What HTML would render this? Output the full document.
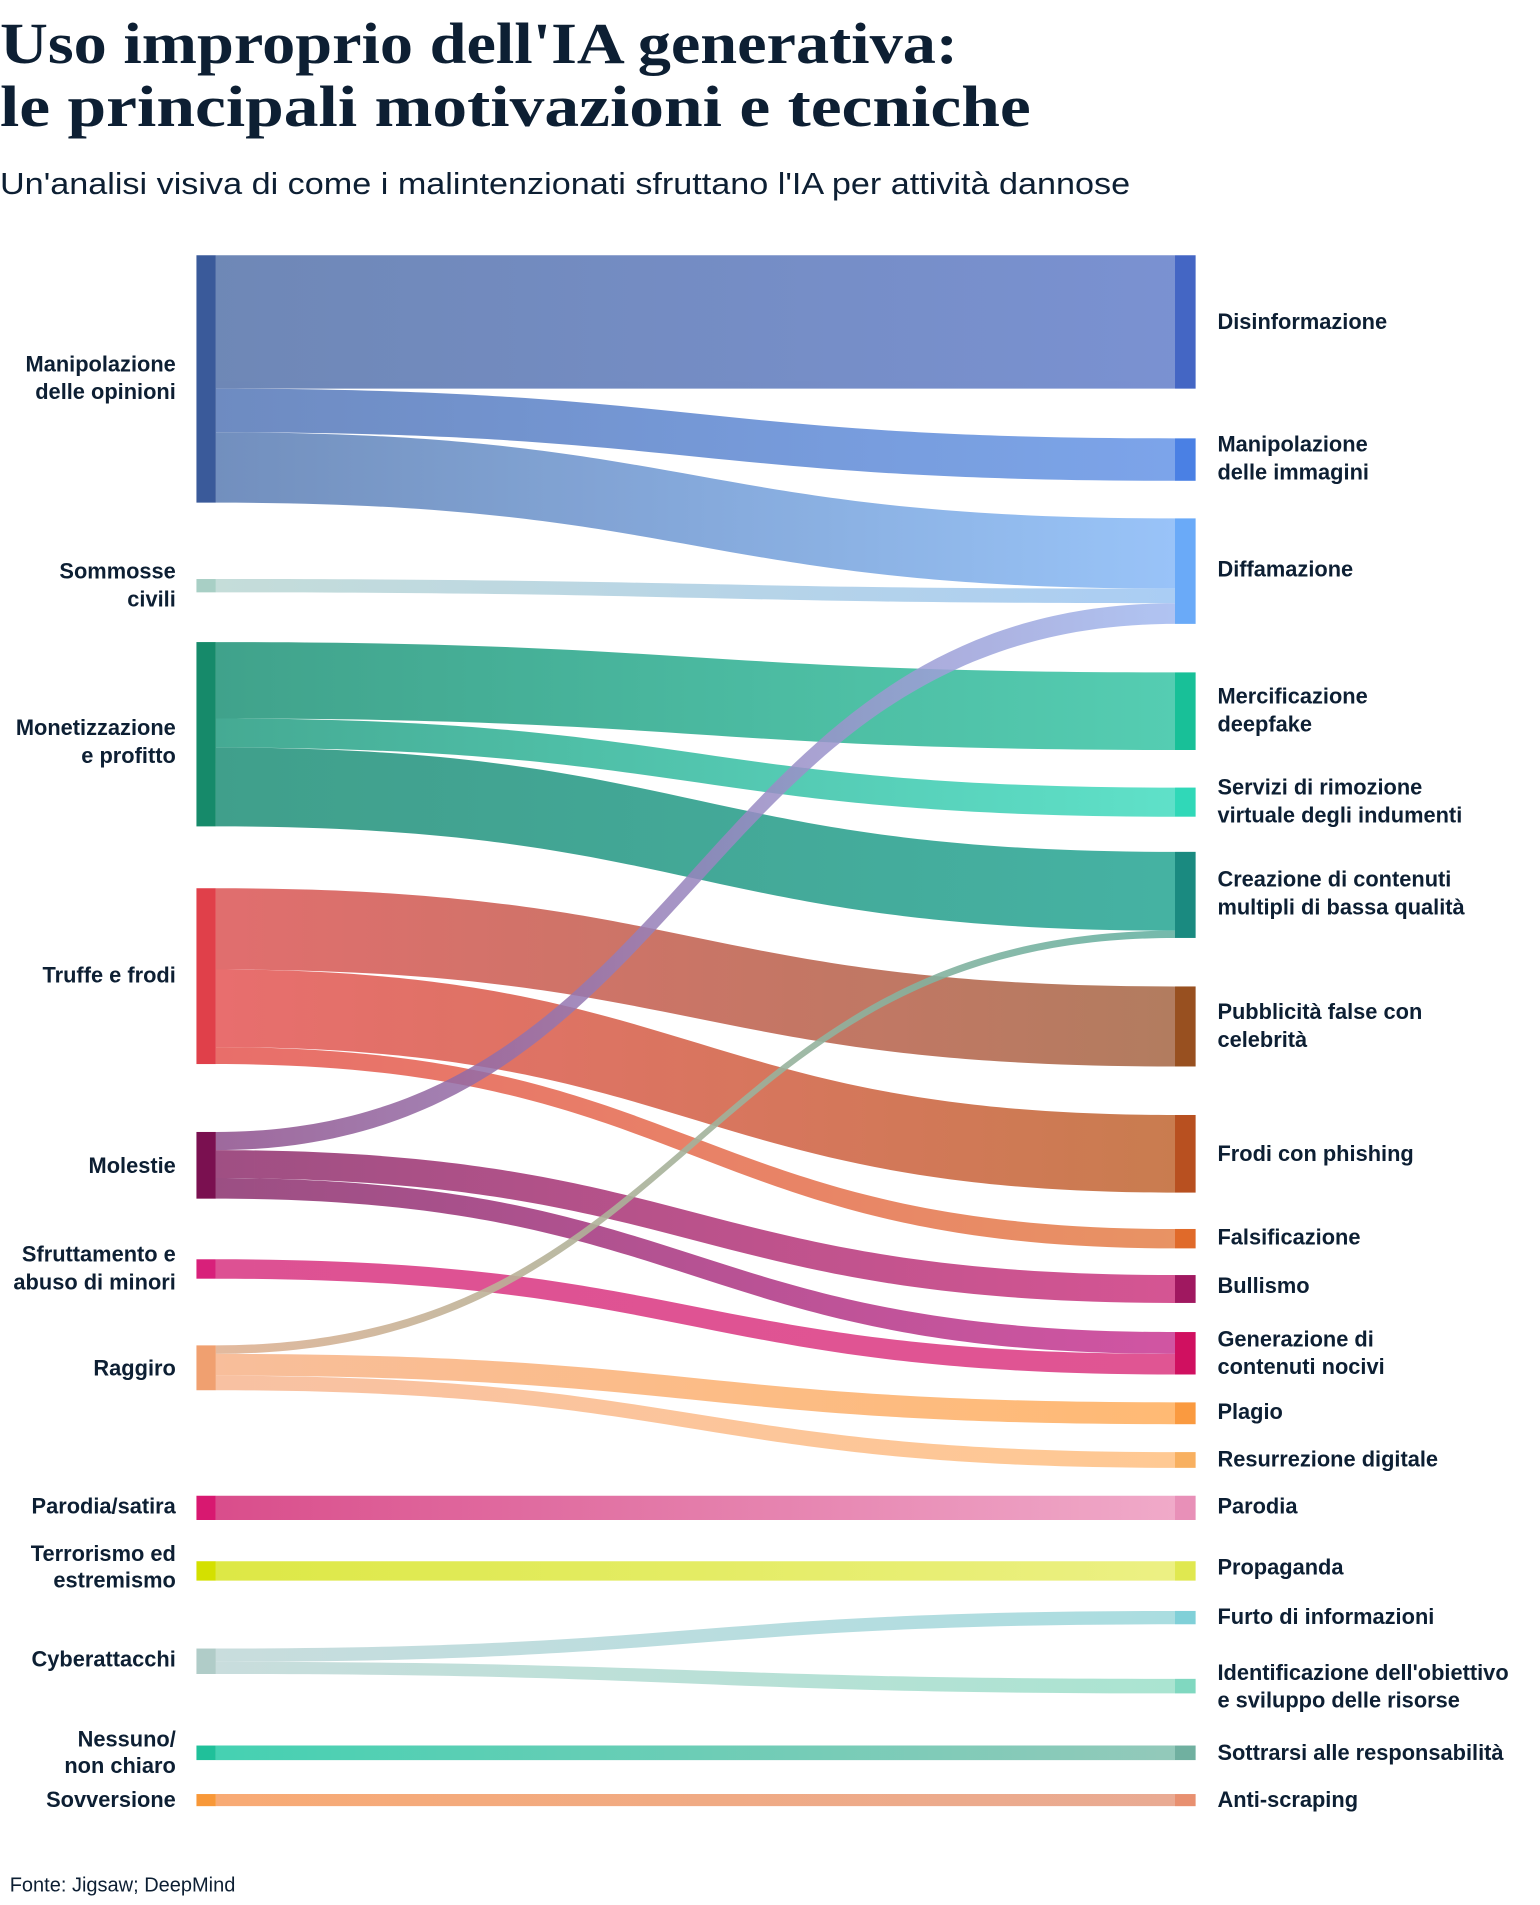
<!DOCTYPE html>
<html><head><meta charset="utf-8"><style>
html,body{margin:0;padding:0;background:#fff;}
svg{display:block;}
.l{font-family:"Liberation Sans",sans-serif;font-weight:bold;font-size:18px;fill:#0d1f33;dominant-baseline:middle;}
.r{text-anchor:end;}
</style></head><body>
<svg width="1540" height="1905" viewBox="0 0 1270 1571" xmlns="http://www.w3.org/2000/svg">
<defs>
<linearGradient id="g1" gradientUnits="userSpaceOnUse" x1="178" x2="969"><stop offset="0" stop-color="#6a84b4"/><stop offset="1" stop-color="#768ed0"/></linearGradient>
<linearGradient id="g2" gradientUnits="userSpaceOnUse" x1="178" x2="969"><stop offset="0" stop-color="#6a88c0"/><stop offset="1" stop-color="#78a2ea"/></linearGradient>
<linearGradient id="g3" gradientUnits="userSpaceOnUse" x1="178" x2="969"><stop offset="0" stop-color="#6e8cbc"/><stop offset="1" stop-color="#96c2f8"/></linearGradient>
<linearGradient id="g4" gradientUnits="userSpaceOnUse" x1="178" x2="969"><stop offset="0" stop-color="#c4dcd8"/><stop offset="1" stop-color="#a8ccf4"/></linearGradient>
<linearGradient id="g5" gradientUnits="userSpaceOnUse" x1="178" x2="969"><stop offset="0" stop-color="#8a4a88"/><stop offset="1" stop-color="#a0b8f0"/></linearGradient>
<linearGradient id="g6" gradientUnits="userSpaceOnUse" x1="178" x2="969"><stop offset="0" stop-color="#9c4a80"/><stop offset="1" stop-color="#d45090"/></linearGradient>
<linearGradient id="g7" gradientUnits="userSpaceOnUse" x1="178" x2="969"><stop offset="0" stop-color="#984a80"/><stop offset="1" stop-color="#d050a0"/></linearGradient>
<linearGradient id="g8" gradientUnits="userSpaceOnUse" x1="178" x2="969"><stop offset="0" stop-color="#3aa088"/><stop offset="1" stop-color="#50ccb0"/></linearGradient>
<linearGradient id="g9" gradientUnits="userSpaceOnUse" x1="178" x2="969"><stop offset="0" stop-color="#40a890"/><stop offset="1" stop-color="#5ae0c8"/></linearGradient>
<linearGradient id="g10" gradientUnits="userSpaceOnUse" x1="178" x2="969"><stop offset="0" stop-color="#3a9c88"/><stop offset="1" stop-color="#40b0a0"/></linearGradient>
<linearGradient id="g11" gradientUnits="userSpaceOnUse" x1="178" x2="969"><stop offset="0" stop-color="#e0b090"/><stop offset="1" stop-color="#60b0a0"/></linearGradient>
<linearGradient id="g12" gradientUnits="userSpaceOnUse" x1="178" x2="969"><stop offset="0" stop-color="#f8bc98"/><stop offset="1" stop-color="#ffb870"/></linearGradient>
<linearGradient id="g13" gradientUnits="userSpaceOnUse" x1="178" x2="969"><stop offset="0" stop-color="#f8c0a0"/><stop offset="1" stop-color="#ffc890"/></linearGradient>
<linearGradient id="g14" gradientUnits="userSpaceOnUse" x1="178" x2="969"><stop offset="0" stop-color="#e06a6a"/><stop offset="1" stop-color="#b0785a"/></linearGradient>
<linearGradient id="g15" gradientUnits="userSpaceOnUse" x1="178" x2="969"><stop offset="0" stop-color="#e86a6a"/><stop offset="1" stop-color="#c8784a"/></linearGradient>
<linearGradient id="g16" gradientUnits="userSpaceOnUse" x1="178" x2="969"><stop offset="0" stop-color="#e86a66"/><stop offset="1" stop-color="#e89060"/></linearGradient>
<linearGradient id="g17" gradientUnits="userSpaceOnUse" x1="178" x2="969"><stop offset="0" stop-color="#dc4c90"/><stop offset="1" stop-color="#e05090"/></linearGradient>
<linearGradient id="g18" gradientUnits="userSpaceOnUse" x1="178" x2="969"><stop offset="0" stop-color="#d84888"/><stop offset="1" stop-color="#f0a8c8"/></linearGradient>
<linearGradient id="g19" gradientUnits="userSpaceOnUse" x1="178" x2="969"><stop offset="0" stop-color="#dce840"/><stop offset="1" stop-color="#ecf080"/></linearGradient>
<linearGradient id="g20" gradientUnits="userSpaceOnUse" x1="178" x2="969"><stop offset="0" stop-color="#c8dcdc"/><stop offset="1" stop-color="#a8dce0"/></linearGradient>
<linearGradient id="g21" gradientUnits="userSpaceOnUse" x1="178" x2="969"><stop offset="0" stop-color="#c8dcdc"/><stop offset="1" stop-color="#a8e4d0"/></linearGradient>
<linearGradient id="g22" gradientUnits="userSpaceOnUse" x1="178" x2="969"><stop offset="0" stop-color="#40d0b0"/><stop offset="1" stop-color="#90c8b8"/></linearGradient>
<linearGradient id="g23" gradientUnits="userSpaceOnUse" x1="178" x2="969"><stop offset="0" stop-color="#f8a870"/><stop offset="1" stop-color="#e8a890"/></linearGradient>
</defs>

<text x="0" y="52" font-family="Liberation Serif,serif" font-weight="bold" font-size="48" fill="#0d1f33" textLength="790" lengthAdjust="spacingAndGlyphs">Uso improprio dell'IA generativa:</text>
<text x="0" y="104" font-family="Liberation Serif,serif" font-weight="bold" font-size="48" fill="#0d1f33" textLength="850" lengthAdjust="spacingAndGlyphs">le principali motivazioni e tecniche</text>
<text x="0" y="160" font-family="Liberation Sans,sans-serif" font-size="25" fill="#0d1f33" textLength="932" lengthAdjust="spacingAndGlyphs">Un'analisi visiva di come i malintenzionati sfruttano l'IA per attività dannose</text>

<g transform="translate(0,1.5)">
<g opacity="0.97">
<path fill="url(#g1)" d="M178 209C573 209 573 209 969 209L969 319C573 319 573 319 178 319Z"/>
<path fill="url(#g2)" d="M178 319C573 319 573 360 969 360L969 395C573 395 573 355 178 355Z"/>
<path fill="url(#g3)" d="M178 355C573 355 573 426 969 426L969 484C573 484 573 413 178 413Z"/>
<path fill="url(#g4)" d="M178 476C573 476 573 484 969 484L969 496C573 496 573 487 178 487Z"/>
<path fill="url(#g8)" d="M178 528C573 528 573 553 969 553L969 617C573 617 573 591 178 591Z"/>
<path fill="url(#g9)" d="M178 591C573 591 573 648 969 648L969 672C573 672 573 615 178 615Z"/>
<path fill="url(#g10)" d="M178 615C573 615 573 701 969 701L969 766C573 766 573 680 178 680Z"/>
<path fill="url(#g14)" d="M178 731C573 731 573 812 969 812L969 878C573 878 573 798 178 798Z"/>
<path fill="url(#g15)" d="M178 798C573 798 573 918 969 918L969 982C573 982 573 862 178 862Z"/>
<path fill="url(#g16)" d="M178 862C573 862 573 1012 969 1012L969 1028C573 1028 573 876 178 876Z"/>
<path fill="url(#g5)" opacity="0.85" d="M178 932C573 932 573 496 969 496L969 513C573 513 573 947 178 947Z"/>
<path fill="url(#g6)" d="M178 947C573 947 573 1050 969 1050L969 1073C573 1073 573 970 178 970Z"/>
<path fill="url(#g7)" d="M178 970C573 970 573 1097 969 1097L969 1115C573 1115 573 987 178 987Z"/>
<path fill="url(#g17)" d="M178 1037C573 1037 573 1115 969 1115L969 1132C573 1132 573 1053 178 1053Z"/>
<path fill="url(#g11)" opacity="0.9" d="M178 1108C573 1108 573 766 969 766L969 772C573 772 573 1115 178 1115Z"/>
<path fill="url(#g12)" d="M178 1115C573 1115 573 1155 969 1155L969 1173C573 1173 573 1133 178 1133Z"/>
<path fill="url(#g13)" d="M178 1133C573 1133 573 1196 969 1196L969 1209C573 1209 573 1145 178 1145Z"/>
<path fill="url(#g18)" d="M178 1232L969 1232L969 1252L178 1252Z"/>
<path fill="url(#g19)" d="M178 1286L969 1286L969 1302L178 1302Z"/>
<path fill="url(#g20)" d="M178 1358C573 1358 573 1327 969 1327L969 1338C573 1338 573 1369 178 1369Z"/>
<path fill="url(#g21)" d="M178 1369C573 1369 573 1383 969 1383L969 1395C573 1395 573 1379 178 1379Z"/>
<path fill="url(#g22)" d="M178 1438L969 1438L969 1450L178 1450Z"/>
<path fill="url(#g23)" d="M178 1478L969 1478L969 1488L178 1488Z"/>
</g>

<g>
<rect x="162" y="209" width="16" height="204" fill="#3a5a9a"/>
<rect x="162" y="476" width="16" height="11" fill="#a8cfc5"/>
<rect x="162" y="528" width="16" height="152" fill="#168a6a"/>
<rect x="162" y="731" width="16" height="145" fill="#e0404a"/>
<rect x="162" y="932" width="16" height="55" fill="#7a1050"/>
<rect x="162" y="1037" width="16" height="16" fill="#d8207a"/>
<rect x="162" y="1108" width="16" height="37" fill="#f0a070"/>
<rect x="162" y="1232" width="16" height="20" fill="#d81870"/>
<rect x="162" y="1286" width="16" height="16" fill="#d4e000"/>
<rect x="162" y="1358" width="16" height="21" fill="#b0ccc8"/>
<rect x="162" y="1438" width="16" height="12" fill="#20c09a"/>
<rect x="162" y="1478" width="16" height="10" fill="#f89838"/>

<rect x="969" y="209" width="17" height="110" fill="#4466c4"/>
<rect x="969" y="360" width="17" height="35" fill="#4a80e4"/>
<rect x="969" y="426" width="17" height="87" fill="#6aaaf8"/>
<rect x="969" y="553" width="17" height="64" fill="#18c098"/>
<rect x="969" y="648" width="17" height="24" fill="#30d8b8"/>
<rect x="969" y="701" width="17" height="71" fill="#1a8a80"/>
<rect x="969" y="812" width="17" height="66" fill="#985020"/>
<rect x="969" y="918" width="17" height="64" fill="#b85020"/>
<rect x="969" y="1012" width="17" height="16" fill="#e06a2a"/>
<rect x="969" y="1050" width="17" height="23" fill="#a01860"/>
<rect x="969" y="1097" width="17" height="35" fill="#d01060"/>
<rect x="969" y="1155" width="17" height="18" fill="#fa9a40"/>
<rect x="969" y="1196" width="17" height="13" fill="#f8b060"/>
<rect x="969" y="1232" width="17" height="20" fill="#e890b8"/>
<rect x="969" y="1286" width="17" height="16" fill="#e0e850"/>
<rect x="969" y="1327" width="17" height="11" fill="#80d0d8"/>
<rect x="969" y="1383" width="17" height="12" fill="#80d8c0"/>
<rect x="969" y="1438" width="17" height="12" fill="#70b0a0"/>
<rect x="969" y="1478" width="17" height="10" fill="#e89070"/>
</g>

<g>
<text class="l r" x="145" y="300">Manipolazione</text>
<text class="l r" x="145" y="323">delle opinioni</text>
<text class="l r" x="145" y="471">Sommosse</text>
<text class="l r" x="145" y="494">civili</text>
<text class="l r" x="145" y="600">Monetizzazione</text>
<text class="l r" x="145" y="623">e profitto</text>
<text class="l r" x="145" y="804">Truffe e frodi</text>
<text class="l r" x="145" y="961">Molestie</text>
<text class="l r" x="145" y="1034">Sfruttamento e</text>
<text class="l r" x="145" y="1057">abuso di minori</text>
<text class="l r" x="145" y="1128">Raggiro</text>
<text class="l r" x="145" y="1242">Parodia/satira</text>
<text class="l r" x="145" y="1281">Terrorismo ed</text>
<text class="l r" x="145" y="1303">estremismo</text>
<text class="l r" x="145" y="1368">Cyberattacchi</text>
<text class="l r" x="145" y="1434">Nessuno/</text>
<text class="l r" x="145" y="1456">non chiaro</text>
<text class="l r" x="145" y="1484">Sovversione</text>

<text class="l" x="1004" y="265">Disinformazione</text>
<text class="l" x="1004" y="366">Manipolazione</text>
<text class="l" x="1004" y="389">delle immagini</text>
<text class="l" x="1004" y="469">Diffamazione</text>
<text class="l" x="1004" y="574">Mercificazione</text>
<text class="l" x="1004" y="597">deepfake</text>
<text class="l" x="1004" y="649">Servizi di rimozione</text>
<text class="l" x="1004" y="672">virtuale degli indumenti</text>
<text class="l" x="1004" y="725">Creazione di contenuti</text>
<text class="l" x="1004" y="748">multipli di bassa qualità</text>
<text class="l" x="1004" y="834">Pubblicità false con</text>
<text class="l" x="1004" y="857">celebrità</text>
<text class="l" x="1004" y="951">Frodi con phishing</text>
<text class="l" x="1004" y="1020">Falsificazione</text>
<text class="l" x="1004" y="1060">Bullismo</text>
<text class="l" x="1004" y="1104">Generazione di</text>
<text class="l" x="1004" y="1127">contenuti nocivi</text>
<text class="l" x="1004" y="1164">Plagio</text>
<text class="l" x="1004" y="1203">Resurrezione digitale</text>
<text class="l" x="1004" y="1242">Parodia</text>
<text class="l" x="1004" y="1292">Propaganda</text>
<text class="l" x="1004" y="1333">Furto di informazioni</text>
<text class="l" x="1004" y="1379">Identificazione dell'obiettivo</text>
<text class="l" x="1004" y="1402">e sviluppo delle risorse</text>
<text class="l" x="1004" y="1445">Sottrarsi alle responsabilità</text>
<text class="l" x="1004" y="1484">Anti-scraping</text>
</g>
</g>

<text x="8" y="1560" font-family="Liberation Sans,sans-serif" font-size="16.5" fill="#0d1f33">Fonte: Jigsaw; DeepMind</text>
</svg>
</body></html>
